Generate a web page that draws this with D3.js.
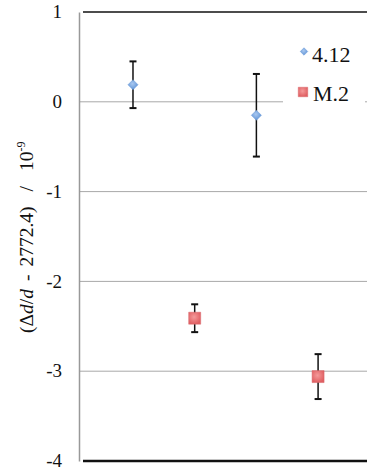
<!DOCTYPE html>
<html><head><meta charset="utf-8">
<script src="https://cdn.jsdelivr.net/npm/d3@7"></script>
<style>body{margin:0;background:#fff}svg{display:block}
svg text{font-family:"Liberation Serif","Times New Roman",serif !important}</style>
</head><body><svg id="c" width="367" height="470"></svg>
<script>
const seriesNames = ["4.12", "M.2"];
const xA = [1, 3];
const yA = [0.19, -0.15];
const errA = [0.26, 0.46];
const xB = [2, 4];
const yB = [-2.41, -3.06];
const errB = [0.155, 0.25];
const yTicks = [1, 0, -1, -2, -3, -4];

(function () {
const svg = d3.select("#c");
const padL = 79, padT = 12, padB = 461;
const x = d3.scaleLinear().domain([0.125, 5.2]).range([padL, padL + (5.2 - 0.125) * 61.7]);
const y = d3.scaleLinear().domain([-4, 1]).range([padB, padT]);

const defs = svg.append("defs");
const gb = defs.append("radialGradient").attr("id", "gb").attr("cx", "45%").attr("cy", "40%").attr("r", "60%");
gb.append("stop").attr("offset", "0%").attr("stop-color", "#a9c8f0");
gb.append("stop").attr("offset", "100%").attr("stop-color", "#5f93d6");
const gr = defs.append("radialGradient").attr("id", "gr").attr("cx", "45%").attr("cy", "40%").attr("r", "60%");
gr.append("stop").attr("offset", "0%").attr("stop-color", "#f49a9a");
gr.append("stop").attr("offset", "100%").attr("stop-color", "#e05f62");

// gridlines
const grid = svg.append("g");
[-1, -2, -3].forEach(v => {
  grid.append("line").attr("x1", padL).attr("x2", 367).attr("y1", y(v)).attr("y2", y(v))
    .attr("stroke", "#a8a8a8").attr("stroke-width", 1);
});
grid.append("line").attr("x1", padL).attr("x2", 283).attr("y1", y(0)).attr("y2", y(0))
  .attr("stroke", "#a8a8a8").attr("stroke-width", 1);
grid.append("line").attr("x1", 365).attr("x2", 367).attr("y1", y(0)).attr("y2", y(0))
  .attr("stroke", "#a8a8a8").attr("stroke-width", 1);

// top and bottom border
svg.append("line").attr("x1", padL + 4).attr("x2", 367).attr("y1", y(1)).attr("y2", y(1))
  .attr("stroke", "#111").attr("stroke-width", 1.5);
svg.append("line").attr("x1", padL + 4).attr("x2", 367).attr("y1", y(-4)).attr("y2", y(-4))
  .attr("stroke", "#111").attr("stroke-width", 2.5);

// y axis
const ax = svg.append("g").attr("transform", `translate(${padL},0)`)
  .call(d3.axisLeft(y).tickValues(yTicks).tickSize(0).tickPadding(17).tickFormat(d => String(d)));
ax.select(".domain").attr("stroke", "#999").attr("stroke-width", 1.5);
ax.selectAll("text").attr("font-size", 19).attr("fill", "#111").attr("dy", "0.3em");

// axis title
const t = svg.append("text").attr("transform", `translate(33,333) rotate(-90)`)
  .attr("text-anchor", "start").attr("font-size", 19.5).attr("fill", "#111");
t.append("tspan").text("(Δ");
t.append("tspan").attr("font-style", "italic").text("d");
t.append("tspan").text("/");
t.append("tspan").attr("font-style", "italic").text("d");
t.append("tspan").attr("dx", 8).text("-");
t.append("tspan").attr("dx", 8).text("2772.4)");
t.append("tspan").attr("dx", 15).text("/");
t.append("tspan").attr("dx", 15).text("10");
t.append("tspan").attr("font-size", 12).attr("dy", -8).text("-9");

function errorBars(xs, ys, es) {
  const g = svg.append("g").attr("stroke", "#111").attr("stroke-width", 1.5);
  xs.forEach((xv, i) => {
    const cx = x(xv), y1 = y(ys[i] + es[i]), y2 = y(ys[i] - es[i]);
    g.append("line").attr("x1", cx).attr("x2", cx).attr("y1", y1).attr("y2", y2);
    g.append("line").attr("x1", cx - 3.5).attr("x2", cx + 3.5).attr("y1", y1).attr("y2", y1).attr("stroke-width", 2);
    g.append("line").attr("x1", cx - 3.5).attr("x2", cx + 3.5).attr("y1", y2).attr("y2", y2).attr("stroke-width", 2);
  });
}
errorBars(xA, yA, errA);
errorBars(xB, yB, errB);

const diamond = d3.symbol().type(d3.symbolDiamond2).size(65);
const square = d3.symbol().type(d3.symbolSquare).size(144);
svg.append("g").selectAll("path").data(xA).join("path")
  .attr("d", diamond).attr("transform", (d, i) => `translate(${x(d)},${y(yA[i])})`)
  .attr("fill", "url(#gb)").attr("stroke", "#6a9ad8").attr("stroke-width", 0.5);
svg.append("g").selectAll("path").data(xB).join("path")
  .attr("d", square).attr("transform", (d, i) => `translate(${x(d)},${y(yB[i])})`)
  .attr("fill", "url(#gr)").attr("stroke", "#d9676a").attr("stroke-width", 0.5);

// legend
const lg = svg.append("g");
lg.append("path").attr("d", d3.symbol().type(d3.symbolDiamond2).size(36))
  .attr("transform", "translate(304,51.5)").attr("fill", "url(#gb)").attr("stroke", "#6a9ad8").attr("stroke-width", 0.5);
lg.append("text").attr("x", 312).attr("y", 62).attr("font-size", 22).attr("fill", "#111").text(seriesNames[0]);
lg.append("path").attr("d", d3.symbol().type(d3.symbolSquare).size(90))
  .attr("transform", "translate(303,92)").attr("fill", "url(#gr)").attr("stroke", "#d9676a").attr("stroke-width", 0.5);
lg.append("text").attr("x", 313).attr("y", 101).attr("font-size", 22).attr("fill", "#111").text(seriesNames[1]);
})();
</script></body></html>
